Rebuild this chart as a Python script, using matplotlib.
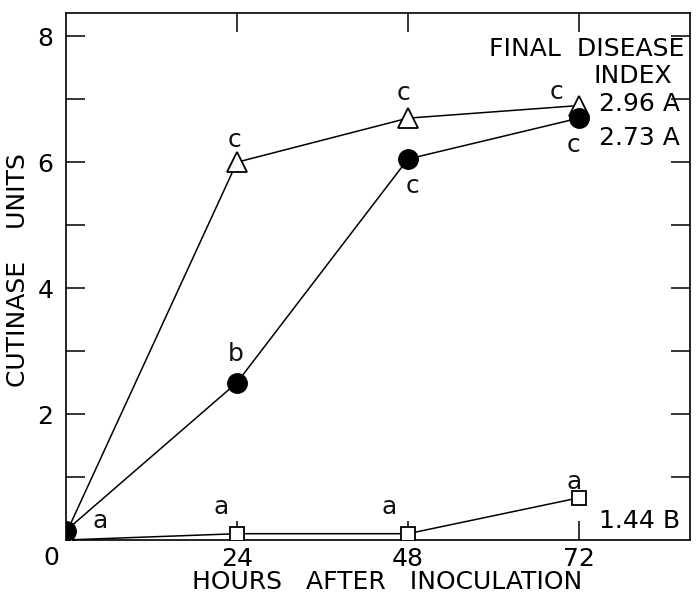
import matplotlib
matplotlib.use("Agg")
import matplotlib.pyplot as plt

hours = [0, 24, 48, 72]
tri_vals = [0.1, 6.0, 6.7, 6.9]
circ_vals = [0.15, 2.5, 6.05, 6.7]
sq_vals = [0.0, 0.1, 0.1, 0.67]

letters = [
    (23.6, 6.35, 'c'), (47.4, 7.1, 'c'), (68.8, 7.12, 'c'),
    (48.6, 5.62, 'c'), (71.2, 6.28, 'c'), (23.8, 2.95, 'b'),
    (21.8, 0.52, 'a'), (45.4, 0.52, 'a'), (71.3, 0.92, 'a'), (4.8, 0.3, 'a'),
]

plt.rcParams['font.family'] = ['DejaVu Sans']

fig = plt.figure(figsize=(6.96, 5.97), dpi=100)
ax = fig.add_axes([66/696, 57/597, 624/696, 527/597])

lw = 1.1
ax.plot(hours, tri_vals, color='black', lw=lw, marker='^', ms=14,
        mfc='white', mec='black', mew=1.3, zorder=3)
ax.plot(hours, circ_vals, color='black', lw=lw, marker='o', ms=14,
        mfc='black', mec='black', zorder=4)
ax.plot(hours, sq_vals, color='black', lw=lw, marker='s', ms=10,
        mfc='white', mec='black', mew=1.3, zorder=3)

for x, y, s in letters:
    ax.text(x, y, s, fontsize=18, ha='center', va='center', color='#111111')

ax.set_xlim(0, 87.6)
ax.set_ylim(0, 8.37)
ax.set_xticks([24, 48, 72])
ax.set_xticklabels(['24', '48', '72'], fontsize=18)
ax.set_yticks([2, 4, 6, 8])
ax.set_yticklabels(['2', '4', '6', '8'], fontsize=18)
ax.set_yticks([1, 3, 5, 7], minor=True)
ax.tick_params(axis='both', which='both', direction='in', length=14, width=1.1,
               right=True, top=True)
ax.tick_params(axis='y', which='both', pad=9)
ax.tick_params(axis='x', which='both', pad=5)
ax.text(-2, -0.1, '0', fontsize=18, ha='center', va='top')

for sp in ax.spines.values():
    sp.set_linewidth(1.2)

ax.set_ylabel('CUTINASE    UNITS', fontsize=18)
ax.yaxis.set_label_coords(-0.058, 0.512)
ax.set_xlabel('HOURS   AFTER   INOCULATION', fontsize=18)
ax.xaxis.set_label_coords(0.514, -0.056)

ax.text(86.8, 7.8, 'FINAL  DISEASE', fontsize=18, ha='right', va='center')
ax.text(79.6, 7.37, 'INDEX', fontsize=18, ha='center', va='center')
ax.text(74.8, 6.93, '2.96 A', fontsize=18, ha='left', va='center')
ax.text(74.8, 6.38, '2.73 A', fontsize=18, ha='left', va='center')
ax.text(74.8, 0.3, '1.44 B', fontsize=18, ha='left', va='center')

fig.savefig('out.png', dpi=100)
